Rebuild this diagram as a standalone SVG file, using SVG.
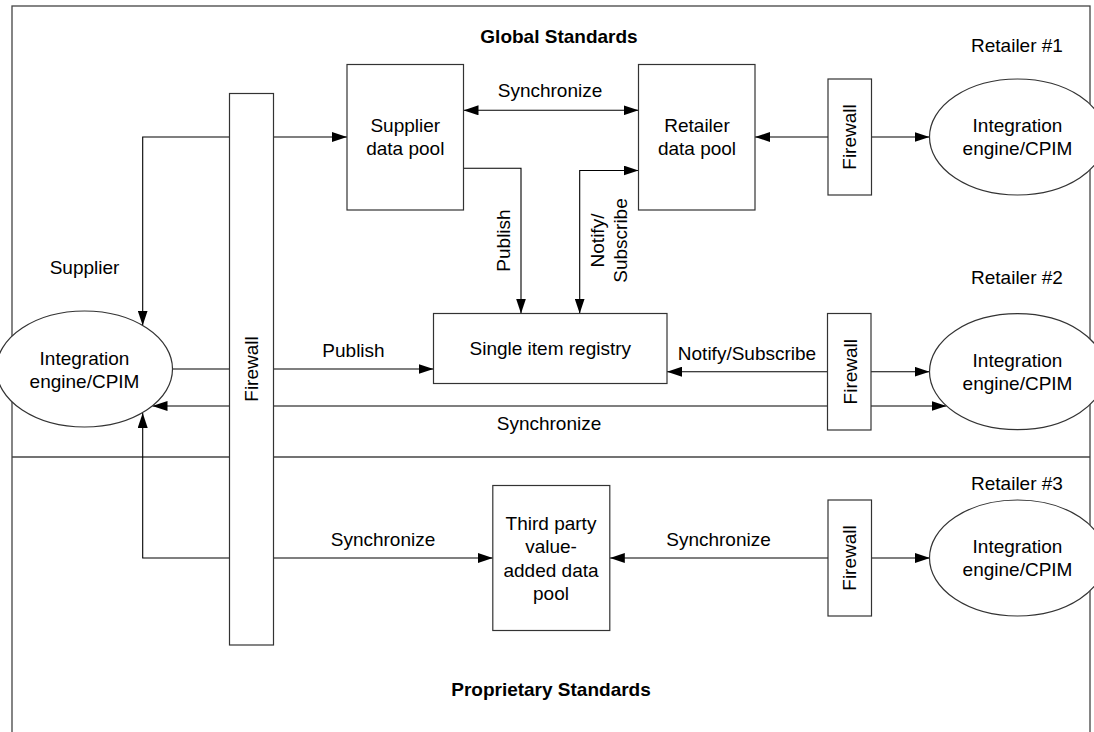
<svg xmlns="http://www.w3.org/2000/svg" width="1094" height="732" viewBox="0 0 1094 732">
<style>
text{font-family:"Liberation Sans",Arial,sans-serif;font-size:19px;fill:#000;text-anchor:middle}
.b{font-weight:bold}
.box{fill:#fff;stroke:#333;stroke-width:1.2}
.c{fill:none;stroke:#000;stroke-width:1.1}
.frame{fill:none;stroke:#444;stroke-width:1.3}
</style>
<defs>
<marker id="ah" viewBox="0 0 15 10" refX="15" refY="5" markerWidth="15" markerHeight="10" markerUnits="userSpaceOnUse" orient="auto-start-reverse">
<path d="M0,0 L15,5 L0,10 z" fill="#000"/>
</marker>
</defs>
<rect class="frame" x="12" y="6" width="1078" height="740"/>
<line class="frame" x1="12" y1="457" x2="1090" y2="457"/>
<text class="b" x="559" y="43">Global Standards</text>
<text class="b" x="551" y="696">Proprietary Standards</text>
<text x="1017" y="52">Retailer #1</text>
<text x="1017" y="284">Retailer #2</text>
<text x="1017" y="490">Retailer #3</text>
<text x="84.5" y="274">Supplier</text>
<g id="connectors">
<path class="c" d="M347,137 H142.7 V325.5" marker-start="url(#ah)" marker-end="url(#ah)"/>
<path class="c" d="M463.5,110.3 H638.5" marker-start="url(#ah)" marker-end="url(#ah)"/>
<path class="c" d="M463.5,168.3 H521 V313.5" marker-end="url(#ah)"/>
<path class="c" d="M638.5,170.5 H579.7 V313.5" marker-start="url(#ah)" marker-end="url(#ah)"/>
<path class="c" d="M828,137 H755" marker-end="url(#ah)"/>
<path class="c" d="M871.5,137 H929.5" marker-end="url(#ah)"/>
<path class="c" d="M172.3,369 H433.5" marker-end="url(#ah)"/>
<path class="c" d="M827.5,371.7 H667" marker-end="url(#ah)"/>
<path class="c" d="M871,371.7 H929.5" marker-end="url(#ah)"/>
<path class="c" d="M946.5,406 H152.5" marker-start="url(#ah)" marker-end="url(#ah)"/>
<path class="c" d="M492.8,558 H142.7 V413" marker-start="url(#ah)" marker-end="url(#ah)"/>
<path class="c" d="M828,558 H609.8" marker-end="url(#ah)"/>
<path class="c" d="M871.5,558 H930" marker-end="url(#ah)"/>
<text x="550" y="97">Synchronize</text>
<text transform="translate(510,240.5) rotate(-90)">Publish</text>
<text transform="translate(604,240.5) rotate(-90)"><tspan x="0" y="0">Notify/</tspan><tspan x="0" y="23">Subscribe</tspan></text>
<text x="353.5" y="357">Publish</text>
<text x="747" y="360">Notify/Subscribe</text>
<text x="549" y="430">Synchronize</text>
<text x="383" y="546">Synchronize</text>
<text x="718.5" y="546">Synchronize</text>
</g>
<g id="supplier-engine">
<ellipse class="box" cx="84.5" cy="369" rx="88" ry="58"/>
<text x="84.5" y="364.5">Integration</text>
<text x="84.5" y="387.5">engine/CPIM</text>
</g>
<g id="firewall-main">
<rect class="box" x="229.5" y="93.5" width="44" height="551.5"/>
<text transform="translate(258,369) rotate(-90)">Firewall</text>
</g>
<g id="supplier-pool">
<rect class="box" x="347" y="64.5" width="116.5" height="145.5"/>
<text x="405.3" y="131.5">Supplier</text>
<text x="405.3" y="154.5">data pool</text>
</g>
<g id="retailer-pool">
<rect class="box" x="638.5" y="64.5" width="116.5" height="145.5"/>
<text x="697" y="131.5">Retailer</text>
<text x="697" y="154.5">data pool</text>
</g>
<g id="firewall-r1">
<rect class="box" x="828" y="79" width="43.5" height="116"/>
<text transform="translate(856,137) rotate(-90)">Firewall</text>
</g>
<g id="engine-r1">
<ellipse class="box" cx="1017.5" cy="137" rx="88" ry="58"/>
<text x="1017.5" y="132">Integration</text>
<text x="1017.5" y="155">engine/CPIM</text>
</g>
<g id="registry">
<rect class="box" x="433.5" y="313.5" width="233.5" height="70"/>
<text x="550.3" y="355">Single item registry</text>
</g>
<g id="firewall-r2">
<rect class="box" x="827.5" y="313.5" width="43.5" height="116.5"/>
<text transform="translate(857,371.7) rotate(-90)">Firewall</text>
</g>
<g id="engine-r2">
<ellipse class="box" cx="1017.5" cy="371.7" rx="88" ry="58"/>
<text x="1017.5" y="366.5">Integration</text>
<text x="1017.5" y="389.5">engine/CPIM</text>
</g>
<g id="third-party-pool">
<rect class="box" x="492.8" y="485.5" width="117" height="145"/>
<text x="551" y="530">Third party</text>
<text x="551" y="553.3">value-</text>
<text x="551" y="576.6">added data</text>
<text x="551" y="599.9">pool</text>
</g>
<g id="firewall-r3">
<rect class="box" x="828" y="500" width="43.5" height="116"/>
<text transform="translate(856,558) rotate(-90)">Firewall</text>
</g>
<g id="engine-r3">
<ellipse class="box" cx="1017.5" cy="558" rx="88" ry="58"/>
<text x="1017.5" y="553">Integration</text>
<text x="1017.5" y="576">engine/CPIM</text>
</g>
</svg>
